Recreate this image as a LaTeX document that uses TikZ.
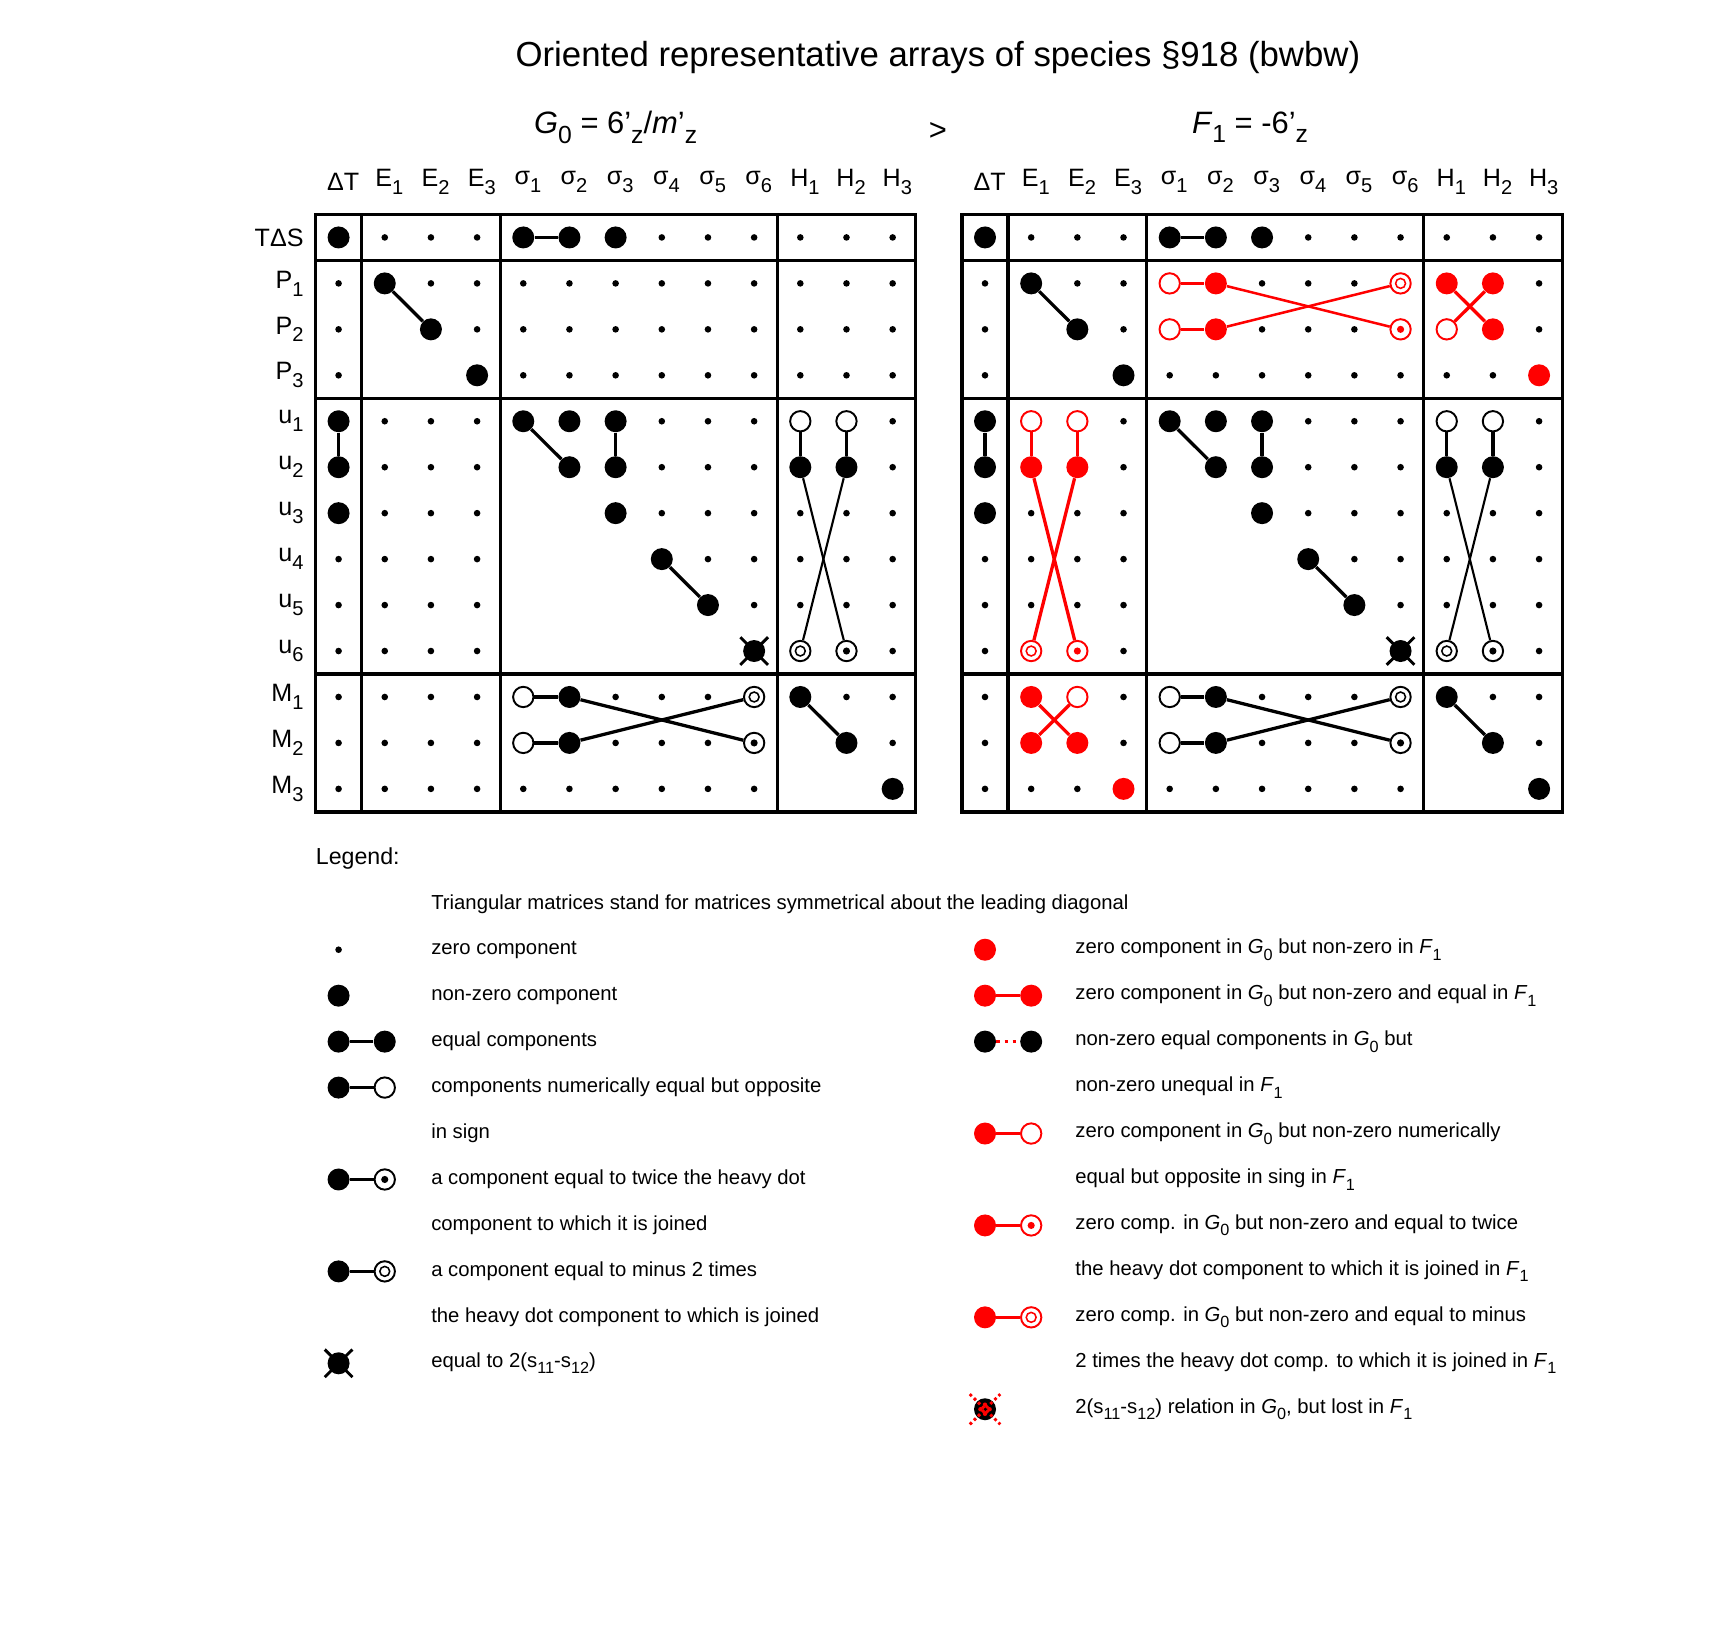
\documentclass[tikz,border=0pt]{standalone}
\usepackage{fontspec}
\setmainfont{Liberation Sans}
\usetikzlibrary{positioning}
\definecolor{rd}{RGB}{255,0,0}
\newcommand{\sbs}[1]{\raisebox{-0.6ex}{\scalebox{0.8}{#1}}}
\tikzset{
  zdot/.style={circle,fill=black,inner sep=0pt,minimum size=0.12cm},
  big/.style={circle,fill=#1,draw=none,inner sep=0pt,minimum size=0.4cm},
  big/.default=black,
  open/.style={circle,draw=#1,fill=white,line width=1pt,inner sep=0pt,minimum size=0.37cm},
  open/.default=black,
  twice/.style={open=#1,path picture={\fill[#1] (path picture bounding box.center) circle (0.065cm);}},
  twice/.default=black,
  minustwo/.style={open=#1,path picture={\draw[#1,line width=0.8pt] (path picture bounding box.center) circle (0.09cm);}},
  minustwo/.default=black,
  join/.style={line width=1.7pt,draw=#1},
  join/.default=black,
  thinjoin/.style={line width=1.1pt},
  grid/.style={line width=1.7pt},
  lab/.style={font=\fontsize{13}{15}\selectfont,inner sep=0pt},
  legtext/.style={anchor=west,inner sep=0pt,font=\fontsize{10.5}{12}\selectfont}
}
% common part of an array: frame, zero dots and black entries
\newcommand{\basearray}[2]{%
  \draw[grid] (#1-0.5,-0.5) rectangle (#1+12.5,12.5);
  \foreach \v in {0.5,3.5,9.5}{
    \draw[grid] (#1+\v,-0.5) -- (#1+\v,12.5);
    \draw[grid] (#1-0.5,\v) -- (#1+12.5,\v);
  }
  \foreach \r in {0,...,12}{
    \foreach \c in {0,...,12}{
      \pgfmathtruncatemacro\bc{(\c>0)+(\c>3)+(\c>9)}
      \pgfmathtruncatemacro\br{(\r>0)+(\r>3)+(\r>9)}
      \pgfmathtruncatemacro\shw{or(\bc!=\br,\c>=\r)}
      \ifnum\shw=1 \node[zdot] (#2-\c-\r) at (#1+\c,\r) {};\fi
    }
  }
  % T Delta S row
  \node[big] (#2-dt) at (#1+0,0) {};
  \node[big] (#2-s1) at (#1+4,0) {};
  \node[big] (#2-s2) at (#1+5,0) {};
  \node[big] (#2-s3) at (#1+6,0) {};
  \draw[join] (#2-s1) -- (#2-s2);
  % E - P
  \node[big] (#2-e1) at (#1+1,1) {};
  \node[big] (#2-e2) at (#1+2,2) {};
  \node[big] (#2-e3) at (#1+3,3) {};
  \draw[join] (#2-e1) -- (#2-e2);
  % u column of Delta T
  \node[big] (#2-tu1) at (#1+0,4) {};
  \node[big] (#2-tu2) at (#1+0,5) {};
  \node[big] (#2-tu3) at (#1+0,6) {};
  \draw[join] (#2-tu1) -- (#2-tu2);
  % sigma - u
  \node[big] (#2-su11) at (#1+4,4) {};
  \node[big] (#2-su21) at (#1+5,4) {};
  \node[big] (#2-su22) at (#1+5,5) {};
  \node[big] (#2-su31) at (#1+6,4) {};
  \node[big] (#2-su32) at (#1+6,5) {};
  \node[big] (#2-su33) at (#1+6,6) {};
  \node[big] (#2-su44) at (#1+7,7) {};
  \node[big] (#2-su55) at (#1+8,8) {};
  \node[big] (#2-su66) at (#1+9,9) {};
  \draw[join] (#2-su11) -- (#2-su22);
  \draw[join] (#2-su31) -- (#2-su32);
  \draw[join] (#2-su44) -- (#2-su55);
  \draw[line width=1.5pt] ([shift={(-0.3,-0.3)}]#2-su66.center) -- ([shift={(0.3,0.3)}]#2-su66.center)
    ([shift={(-0.3,0.3)}]#2-su66.center) -- ([shift={(0.3,-0.3)}]#2-su66.center);
  % H - u
  \node[open] (#2-hu11) at (#1+10,4) {};
  \node[big] (#2-hu12) at (#1+10,5) {};
  \node[minustwo] (#2-hu16) at (#1+10,9) {};
  \node[open] (#2-hu21) at (#1+11,4) {};
  \node[big] (#2-hu22) at (#1+11,5) {};
  \node[twice] (#2-hu26) at (#1+11,9) {};
  \draw[join] (#2-hu11) -- (#2-hu12);
  \draw[join] (#2-hu21) -- (#2-hu22);
  \draw[thinjoin] (#2-hu12) -- (#2-hu26);
  \draw[thinjoin] (#2-hu22) -- (#2-hu16);
  % sigma - M
  \node[open] (#2-sm11) at (#1+4,10) {};
  \node[big] (#2-sm21) at (#1+5,10) {};
  \node[minustwo] (#2-sm61) at (#1+9,10) {};
  \node[open] (#2-sm12) at (#1+4,11) {};
  \node[big] (#2-sm22) at (#1+5,11) {};
  \node[twice] (#2-sm62) at (#1+9,11) {};
  \draw[join] (#2-sm11) -- (#2-sm21);
  \draw[join] (#2-sm12) -- (#2-sm22);
  \draw[join] (#2-sm21) -- (#2-sm62);
  \draw[join] (#2-sm22) -- (#2-sm61);
  % H - M
  \node[big] (#2-hm11) at (#1+10,10) {};
  \node[big] (#2-hm22) at (#1+11,11) {};
  \node[big] (#2-hm33) at (#1+12,12) {};
  \draw[join] (#2-hm11) -- (#2-hm22);
  % headings
  \foreach \t [count=\i from 0] in {ΔT,E\sbs{1},E\sbs{2},E\sbs{3},σ\sbs{1},σ\sbs{2},σ\sbs{3},σ\sbs{4},σ\sbs{5},σ\sbs{6},H\sbs{1},H\sbs{2},H\sbs{3}}
    \node[lab] (#2-col\i) at (#1+\i+0.1,-1.2) {\t};
}

\begin{document}
\begin{tikzpicture}[x=0.84cm,y=-0.836cm]
\useasboundingbox (-7.333,-5.167) rectangle (29.81,30.21);
\node[font=\fontsize{18}{21}\selectfont] (title) at (12.98,-3.92) {Oriented representative arrays of species §918 (bwbw)};
\node[font=\fontsize{16}{19}\selectfont] (gzero) at (6,-2.4) {\textit{G}\sbs{0} = 6'\sbs{z}/\textit{m}'\sbs{z}};
\node[font=\fontsize{16}{19}\selectfont] (gt) at (12.98,-2.3) {>};
\node[font=\fontsize{16}{19}\selectfont] (fone) at (19.74,-2.4) {\textit{F}\sbs{1} = -6'\sbs{z}};

\basearray{0}{L}
\basearray{14}{R}

% row labels
\foreach \t [count=\i from 0] in {TΔS,P\sbs{1},P\sbs{2},P\sbs{3},u\sbs{1},u\sbs{2},u\sbs{3},u\sbs{4},u\sbs{5},u\sbs{6},M\sbs{1},M\sbs{2},M\sbs{3}}
  \node[lab,anchor=east] (row\i) at (-0.75,\i) {\t};

% red entries of F1
\node[open=rd] (R-sp11) at (18,1) {};
\node[big=rd] (R-sp21) at (19,1) {};
\node[minustwo=rd] (R-sp61) at (23,1) {};
\node[open=rd] (R-sp12) at (18,2) {};
\node[big=rd] (R-sp22) at (19,2) {};
\node[twice=rd] (R-sp62) at (23,2) {};
\draw[join=rd] (R-sp11) -- (R-sp21);
\draw[join=rd] (R-sp12) -- (R-sp22);
\draw[join=rd,line width=1.3pt] (R-sp21) -- (R-sp62);
\draw[join=rd,line width=1.3pt] (R-sp22) -- (R-sp61);
\node[big=rd] (R-hp11) at (24,1) {};
\node[big=rd] (R-hp21) at (25,1) {};
\node[open=rd] (R-hp12) at (24,2) {};
\node[big=rd] (R-hp22) at (25,2) {};
\node[big=rd] (R-hp33) at (26,3) {};
\draw[join=rd] (R-hp11) -- (R-hp22);
\draw[join=rd] (R-hp21) -- (R-hp12);
\node[open=rd] (R-eu11) at (15,4) {};
\node[big=rd] (R-eu12) at (15,5) {};
\node[minustwo=rd] (R-eu16) at (15,9) {};
\node[open=rd] (R-eu21) at (16,4) {};
\node[big=rd] (R-eu22) at (16,5) {};
\node[twice=rd] (R-eu26) at (16,9) {};
\draw[join=rd] (R-eu11) -- (R-eu12);
\draw[join=rd] (R-eu21) -- (R-eu22);
\draw[join=rd] (R-eu12) -- (R-eu26);
\draw[join=rd] (R-eu22) -- (R-eu16);
\node[big=rd] (R-em11) at (15,10) {};
\node[open=rd] (R-em21) at (16,10) {};
\node[big=rd] (R-em12) at (15,11) {};
\node[big=rd] (R-em22) at (16,11) {};
\node[big=rd] (R-em33) at (17,12) {};
\draw[join=rd] (R-em11) -- (R-em22);
\draw[join=rd] (R-em21) -- (R-em12);

% legend
\node[legtext,font=\fontsize{12}{14}\selectfont] (leg) at (-0.5,13.52) {Legend:};
\node[legtext] (t0) at (2,14.5) {Triangular matrices stand for matrices symmetrical about the leading diagonal};
\node[zdot] (a1) at (0,15.5) {};
\node[legtext] (t1) at (2,15.5) {zero component};
\node[big] (a2) at (0,16.5) {};
\node[legtext] (t2) at (2,16.5) {non-zero component};
\node[big] (a3) at (0,17.5) {};
\node[big] (b3) at (1,17.5) {};
\draw[join] (a3) -- (b3);
\node[legtext] (t3) at (2,17.5) {equal components};
\node[big] (a4) at (0,18.5) {};
\node[open] (b4) at (1,18.5) {};
\draw[join] (a4) -- (b4);
\node[legtext] (t4) at (2,18.5) {components numerically equal but opposite};
\node[legtext] (t5) at (2,19.5) {in sign};
\node[big] (a6) at (0,20.5) {};
\node[twice] (b6) at (1,20.5) {};
\draw[join] (a6) -- (b6);
\node[legtext] (t6) at (2,20.5) {a component equal to twice the heavy dot};
\node[legtext] (t7) at (2,21.5) {component to which it is joined};
\node[big] (a8) at (0,22.5) {};
\node[minustwo] (b8) at (1,22.5) {};
\draw[join] (a8) -- (b8);
\node[legtext] (t8) at (2,22.5) {a component equal to minus 2 times};
\node[legtext] (t9) at (2,23.5) {the heavy dot component to which is joined};
\node[big] (a10) at (0,24.5) {};
\draw[line width=1.5pt] ([shift={(-0.3,-0.3)}]a10.center) -- ([shift={(0.3,0.3)}]a10.center)
  ([shift={(-0.3,0.3)}]a10.center) -- ([shift={(0.3,-0.3)}]a10.center);
\node[legtext] (t10) at (2,24.5) {equal to 2(s\sbs{11}-s\sbs{12})};

\node[big=rd] (c1) at (14,15.5) {};
\node[legtext] (u1) at (15.95,15.5) {zero component in \textit{G}\sbs{0} but non-zero in \textit{F}\sbs{1}};
\node[big=rd] (c2) at (14,16.5) {};
\node[big=rd] (d2) at (15,16.5) {};
\draw[join=rd] (c2) -- (d2);
\node[legtext] (u2) at (15.95,16.5) {zero component in \textit{G}\sbs{0} but non-zero and equal in \textit{F}\sbs{1}};
\node[big] (c3) at (14,17.5) {};
\node[big] (d3) at (15,17.5) {};
\draw[rd,line width=1.7pt,dash pattern=on 1.7pt off 2.5pt] (c3) -- (d3);
\node[legtext] (u3) at (15.95,17.5) {non-zero equal components in \textit{G}\sbs{0} but};
\node[legtext] (u4) at (15.95,18.5) {non-zero unequal in \textit{F}\sbs{1}};
\node[big=rd] (c5) at (14,19.5) {};
\node[open=rd] (d5) at (15,19.5) {};
\draw[join=rd] (c5) -- (d5);
\node[legtext] (u5) at (15.95,19.5) {zero component in \textit{G}\sbs{0} but non-zero numerically};
\node[legtext] (u6) at (15.95,20.5) {equal but opposite in sing in \textit{F}\sbs{1}};
\node[big=rd] (c7) at (14,21.5) {};
\node[twice=rd] (d7) at (15,21.5) {};
\draw[join=rd] (c7) -- (d7);
\node[legtext] (u7) at (15.95,21.5) {zero comp. in \textit{G}\sbs{0} but non-zero and equal to twice};
\node[legtext] (u8) at (15.95,22.5) {the heavy dot component to which it is joined in \textit{F}\sbs{1}};
\node[big=rd] (c9) at (14,23.5) {};
\node[minustwo=rd] (d9) at (15,23.5) {};
\draw[join=rd] (c9) -- (d9);
\node[legtext] (u9) at (15.95,23.5) {zero comp. in \textit{G}\sbs{0} but non-zero and equal to minus};
\node[legtext] (u10) at (15.95,24.5) {2 times the heavy dot comp. to which it is joined in \textit{F}\sbs{1}};
\node[big] (c11) at (14,25.5) {};
\draw[rd,line width=1.5pt,dash pattern=on 1.5pt off 1.5pt] ([shift={(-0.33,-0.33)}]c11.center) -- ([shift={(0.33,0.33)}]c11.center)
  ([shift={(-0.33,0.33)}]c11.center) -- ([shift={(0.33,-0.33)}]c11.center);
\foreach \dx/\dy in {-0.1/0,0.1/0,0/-0.1,0/0.1}
  \fill[rd] ([shift={(\dx,\dy)}]c11.center) circle (0.04cm);
\node[legtext] (u11) at (15.95,25.5) {2(s\sbs{11}-s\sbs{12}) relation in \textit{G}\sbs{0}, but lost in \textit{F}\sbs{1}};
\end{tikzpicture}
\end{document}
